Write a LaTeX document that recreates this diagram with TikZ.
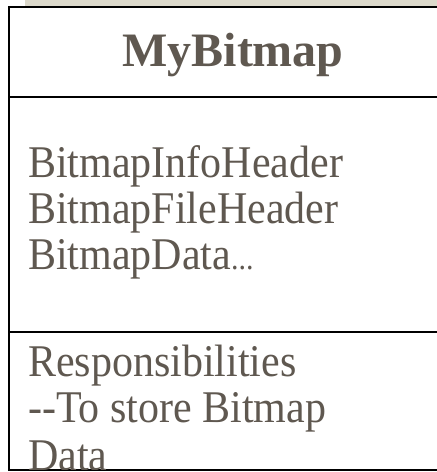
\documentclass[tikz,border=0pt]{standalone}
\usepackage{fontspec}
\setmainfont{Liberation Serif}
\definecolor{txt}{HTML}{5F5850}
\definecolor{strip}{HTML}{DCD9CB}
\newcommand{\tallbody}[1]{\scalebox{1}[1.08]{#1}}
\tikzset{
  body/.style={anchor=base west, inner sep=0pt, text=txt, font=\fontsize{42}{42}\selectfont},
  title/.style={anchor=base, inner sep=0pt, text=txt, font=\fontsize{48}{48}\selectfont\bfseries},
  border/.style={line width=2pt, black}
}
\begin{document}
\begin{tikzpicture}[x=1pt,y=-1pt]
\useasboundingbox (0,0) rectangle (437,472);
\fill[strip] (25,0) rectangle (437,6);
\draw[border] (8,7) -- (437,7);
\draw[border] (9,6) -- (9,471);
\draw[border] (8,470) -- (437,470);
\draw[border] (8,97) -- (437,97);
\draw[border] (8,332) -- (437,332);
\node[title] (t) at (233,66) {MyBitmap};
\node[body] (a1) at (28,177) {\tallbody{BitmapInfoHeader}};
\node[body] (a2) at (28,223) {\tallbody{BitmapFileHeader}};
\node[body] (a3) at (28,269) {\tallbody{BitmapData\fontsize{30}{30}\selectfont...}};
\node[body] (r1) at (28,376) {\tallbody{Responsibilities}};
\node[body] (r2) at (28,422) {\tallbody{-{}-To store Bitmap}};
\begin{scope}
\clip (10,334) rectangle (437,469);
\node[body] (r3) at (28,470) {\tallbody{Data}};
\end{scope}
\end{tikzpicture}
\end{document}
